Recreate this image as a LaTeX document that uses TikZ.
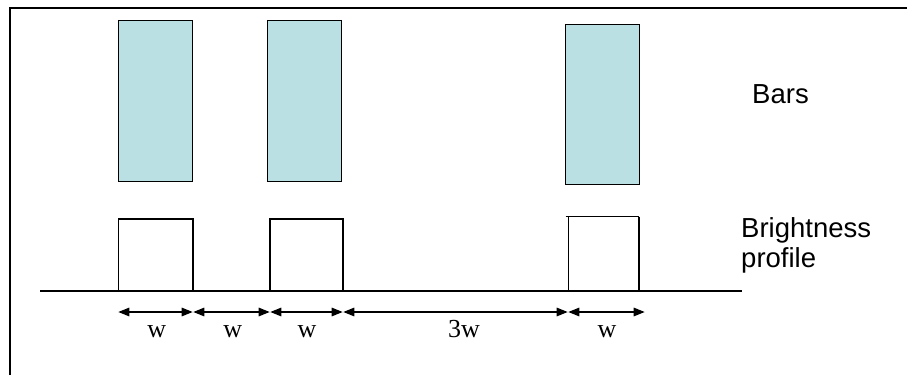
\documentclass[tikz,border=0pt]{standalone}
\usepackage{fontspec}
\setmainfont{Liberation Serif}
\newfontfamily\labelsans{Liberation Sans}
\usetikzlibrary{arrows.meta}
\definecolor{barfill}{HTML}{BBE0E3}
\tikzset{
  barbox/.style={draw=black, line width=1.4pt, fill=barfill, inner sep=0pt, anchor=north west},
  pulse/.style={line width=1.2pt},
  baseline/.style={line width=1.2pt},
  dimarrow/.style={line width=1.4pt, {Triangle[length=11pt,width=8.5pt]}-{Triangle[length=11pt,width=8.5pt]}, shorten <=0.3pt, shorten >=0.3pt},
  wlabel/.style={font=\fontsize{26}{26}\selectfont, anchor=base, inner sep=0pt},
  sidelabel/.style={font=\labelsans\fontsize{27.5}{30}\selectfont, anchor=base west, inner sep=0pt},
  frameline/.style={line width=2.2pt}
}
\begin{document}
\begin{tikzpicture}[x=1pt,y=-1pt]
\useasboundingbox (0,0) rectangle (907,375);
% frame (top and left edges)
\coordinate (fl) at (10,375);
\coordinate (ftl) at (10,8);
\coordinate (ftr) at (907,8);
\draw[frameline] (fl) -- (ftl) -- (ftr);
% bars
\node[barbox, minimum width=74pt, minimum height=161pt] (bar1) at (118,20) {};
\node[barbox, minimum width=74pt, minimum height=161pt] (bar2) at (266.5,19.5) {};
\node[barbox, minimum width=73.5pt, minimum height=160.5pt] (bar3) at (565,23.5) {};
% baseline
\coordinate (bl) at (40,291);
\coordinate (br) at (742,291);
\draw[baseline] (bl) -- (br);
% pulses
\coordinate (p1a) at (118.5,291); \coordinate (p1b) at (193,291);
\coordinate (p2a) at (270,291);   \coordinate (p2b) at (343,291);
\coordinate (p3a) at (568.5,291); \coordinate (p3b) at (639,291);
\draw[pulse] (p1a) -- ++(0,-72) -- (193,219) -- (p1b);
\draw[pulse] (p2a) -- ++(0,-72) -- (343,219) -- (p2b);
\draw[pulse] (p3a) -- ++(0,-74.5);
\draw[pulse] (565.5,216.5) -- (639,216.5);
\draw[pulse] (639,216.5) -- (p3b);
% dimension ticks
\coordinate (d0) at (118,312);
\coordinate (d1) at (193,312);
\coordinate (d2) at (270,312);
\coordinate (d3) at (343,312);
\coordinate (d4) at (568,312);
\coordinate (d5) at (645,312);
\draw[dimarrow] (d0) -- (d1);
\draw[dimarrow] (d1) -- (d2);
\draw[dimarrow] (d2) -- (d3);
\draw[dimarrow] (d3) -- (d4);
\draw[dimarrow] (d4) -- (d5);
% labels
\node[wlabel] (w1) at (156.7,337) {w};
\node[wlabel] (w2) at (232.7,337) {w};
\node[wlabel] (w3) at (307,337) {w};
\node[wlabel] (w4) at (464,337) {3w};
\node[wlabel] (w5) at (607,337) {w};
\node[sidelabel] (bars) at (752,103) {Bars};
\node[sidelabel] (bright) at (741,237) {Brightness};
\node[sidelabel] (prof) at (741,267) {profile};
\end{tikzpicture}
\end{document}
